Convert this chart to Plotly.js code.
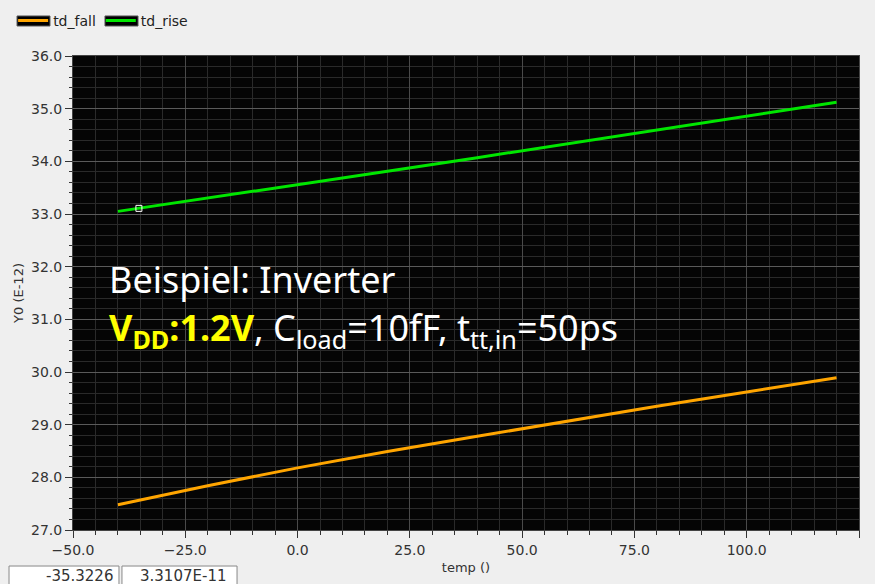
<!DOCTYPE html>
<html>
<head>
<meta charset="utf-8">
<script src="https://cdn.plot.ly/plotly-3.0.1.min.js"></script>
<style>html,body{margin:0;padding:0;background:#efefef;}#chart{width:875px;height:584px;}</style>
</head>
<body>
<div id="chart"></div>
<script>
// Data
const temp = [-40, -20, 0, 20, 40, 60, 80, 100, 120];
const tdFall = [27.48, 27.84, 28.18, 28.49, 28.78, 29.07, 29.35, 29.62, 29.89];
const tdRise = [33.05, 33.30, 33.55, 33.81, 34.07, 34.33, 34.60, 34.86, 35.12];
const cursorX = [-35.3226];
const cursorY = [33.107];
const cursorLabels = ["-35.3226", "3.3107E-11"];
const seriesNames = ["td_fall", "td_rise"];

const tickFont = {family: "DejaVu Sans", size: 14, color: "#333"};

const traces = [
  {x: temp, y: tdFall, name: seriesNames[0], type: "scatter", mode: "lines",
   line: {color: "#ffa500", width: 3}},
  {x: temp, y: tdRise, name: seriesNames[1], type: "scatter", mode: "lines",
   line: {color: "#00e600", width: 3}},
  {x: cursorX, y: cursorY, type: "scatter", mode: "markers", showlegend: false,
   marker: {symbol: "square-open", size: 6, color: "#ffffff", line: {width: 1, color: "#ffffff"}}}
];

const layout = {
  width: 875, height: 584,
  paper_bgcolor: "#efefef",
  plot_bgcolor: "#050505",
  margin: {l: 73, r: 16, t: 56, b: 54, autoexpand: false},
  showlegend: true,
  legend: {orientation: "h", xref: "container", yref: "container", x: 0.015, y: 0.964,
           xanchor: "left", yanchor: "middle",
           font: {family: "DejaVu Sans", size: 14, color: "#222"}, bgcolor: "rgba(0,0,0,0)",
           itemwidth: 30, tracegroupgap: 0},
  xaxis: {
    range: [-50, 125], dtick: 25, tick0: -50, tickformat: ".1f",
    ticks: "outside", ticklen: 7, tickcolor: "#333", tickfont: tickFont,
    showgrid: true, gridcolor: "#4a4a4a", gridwidth: 1, zeroline: false,
    showline: true, linecolor: "#444", linewidth: 1, mirror: true,
    minor: {dtick: 5, ticks: "outside", ticklen: 4, tickcolor: "#333", showgrid: true, gridcolor: "#2a2a2a"},
    title: {text: "temp ()", font: {family: "DejaVu Sans", size: 13, color: "#333"}, standoff: 6}
  },
  yaxis: {
    range: [27, 36], dtick: 1, tick0: 27, tickformat: ".1f",
    ticks: "outside", ticklen: 7, tickcolor: "#333", tickfont: tickFont,
    showgrid: true, gridcolor: "#5a5a5a", gridwidth: 1, zeroline: false,
    showline: true, linecolor: "#444", linewidth: 1, mirror: true,
    minor: {dtick: 0.2, ticks: "outside", ticklen: 3, tickcolor: "#333", showgrid: true, gridcolor: "#2a2a2a"},
    title: {text: "Y0 (E-12)", font: {family: "DejaVu Sans", size: 13, color: "#333"}, standoff: 4}
  },
  shapes: [
    {type: "rect", xref: "paper", yref: "paper", x0: -0.0712, x1: -0.0293, y0: 1.0633, y1: 1.0844,
     fillcolor: "#000000", line: {color: "#555", width: 1}, layer: "above"},
    {type: "rect", xref: "paper", yref: "paper", x0: 0.0407, x1: 0.0827, y0: 1.0633, y1: 1.0844,
     fillcolor: "#000000", line: {color: "#555", width: 1}, layer: "above"},
    {type: "rect", xref: "paper", yref: "paper", x0: -0.0814, x1: 0.0585, y0: -0.13, y1: -0.076,
     fillcolor: "#ffffff", line: {color: "#888", width: 1}, layer: "above"},
    {type: "rect", xref: "paper", yref: "paper", x0: 0.0623, x1: 0.2087, y0: -0.13, y1: -0.076,
     fillcolor: "#ffffff", line: {color: "#888", width: 1}, layer: "above"}
  ],
  annotations: [
    {xref: "paper", yref: "paper", x: 0.043, y: 0.528, xanchor: "left", yanchor: "middle",
     text: "Beispiel: Inverter", showarrow: false,
     font: {family: "Noto Sans", size: 36, color: "#ffffff"}},
    {xref: "paper", yref: "paper", x: 0.043, y: 0.424, xanchor: "left", yanchor: "middle",
     text: "<b><span style=\"color:#ffff00\">V<sub>DD</sub>:1.2V</span></b>, C<sub>load</sub>=10fF, t<sub>tt,in</sub>=50ps",
     showarrow: false, font: {family: "Noto Sans", size: 36, color: "#ffffff"}},
    {xref: "paper", yref: "paper", x: 0.0534, y: -0.097, xanchor: "right", yanchor: "middle",
     text: cursorLabels[0], showarrow: false, font: {family: "DejaVu Sans", size: 15, color: "#333"}},
    {xref: "paper", yref: "paper", x: 0.0827, y: -0.097, xanchor: "left", yanchor: "middle",
     text: cursorLabels[1], showarrow: false, font: {family: "DejaVu Sans", size: 15, color: "#333"}}
  ]
};

Plotly.newPlot("chart", traces, layout, {displayModeBar: false});
</script>
</body>
</html>
